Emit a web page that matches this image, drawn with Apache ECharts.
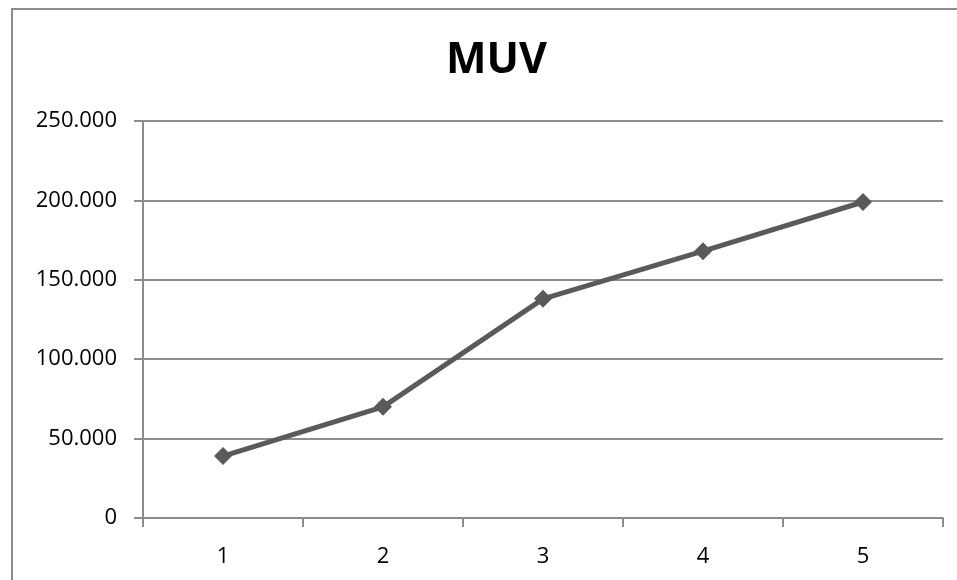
<!DOCTYPE html>
<html>
<head>
<meta charset="utf-8">
<script src="https://cdn.jsdelivr.net/npm/echarts@6/dist/echarts.min.js"></script>
<style>
  html, body { margin: 0; padding: 0; background: #ffffff; }
  #frame { position: absolute; left: 0; top: 0; width: 957px; height: 580px; }
  #border { position: absolute; left: 11px; top: 8px; width: 960px; height: 590px;
            border-left: 2px solid #8c8c8c; border-top: 2px solid #8c8c8c; box-sizing: border-box; }
  #chart { position: absolute; left: 0; top: 0; width: 957px; height: 580px; }
</style>
</head>
<body>
<div id="frame">
  <div id="border"></div>
  <div id="chart"></div>
</div>
<script>
// Series data
const categories = ['1', '2', '3', '4', '5'];
const muvValues = [39000, 70000, 138000, 168000, 199000];
const yTicks = { min: 0, max: 250000, interval: 50000 };

// Thousands separated with a dot, e.g. 250.000
function formatThousands(v) {
  const s = String(Math.round(v));
  return s.replace(/\B(?=(\d{3})+(?!\d))/g, '.');
}

const chart = echarts.init(document.getElementById('chart'), null, { renderer: 'canvas' });
const font = 'Open Sans';

chart.setOption({
  backgroundColor: 'transparent',
  animation: false,
  title: {
    text: 'MUV',
    left: 441,
    top: 34,
    textStyle: { fontFamily: font, fontWeight: 'bold', fontSize: 43, color: '#000000' }
  },
  grid: { left: 143, right: 14, top: 121, bottom: 62, containLabel: false },
  xAxis: {
    type: 'category',
    data: categories,
    boundaryGap: true,
    axisLine: { show: true, lineStyle: { color: '#8c8c8c', width: 2 } },
    axisTick: { show: true, length: 9, alignWithLabel: false, lineStyle: { color: '#8c8c8c', width: 2 } },
    axisLabel: { margin: 28, fontFamily: font, fontSize: 22, color: '#000000' },
    splitLine: { show: false }
  },
  yAxis: {
    type: 'value',
    min: yTicks.min,
    max: yTicks.max,
    interval: yTicks.interval,
    axisLine: { show: true, lineStyle: { color: '#8c8c8c', width: 2 } },
    axisTick: { show: true, length: 9, lineStyle: { color: '#8c8c8c', width: 2 } },
    axisLabel: { margin: 26, fontFamily: font, fontSize: 22, color: '#000000', formatter: formatThousands },
    splitLine: { show: true, lineStyle: { color: '#8c8c8c', width: 2 } }
  },
  series: [{
    name: 'MUV',
    type: 'line',
    data: muvValues,
    symbol: 'diamond',
    symbolSize: 18,
    lineStyle: { color: '#5a5a5a', width: 5 },
    itemStyle: { color: '#5a5a5a' }
  }]
});
</script>
</body>
</html>
